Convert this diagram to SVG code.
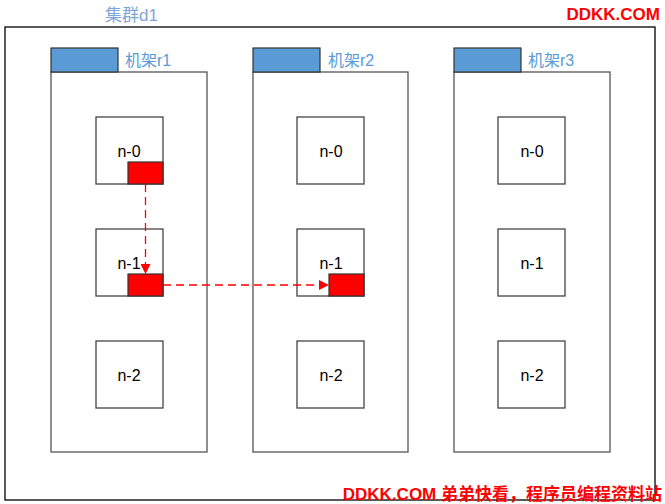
<svg xmlns="http://www.w3.org/2000/svg" width="665" height="504" viewBox="0 0 665 504">
<style>
.frame{fill:#fff;stroke:#000;stroke-width:1.3}
.rack{fill:#fff;stroke:#555;stroke-width:1.3}
.tab{fill:#5b9bd5;stroke:#333;stroke-width:1.2}
.node{fill:#fff;stroke:#444;stroke-width:1.3}
.red{fill:#ff0000;stroke:#333;stroke-width:1.2}
.nt{font-family:"Liberation Sans","Open Sans",sans-serif;font-size:16px;fill:#000;text-anchor:middle}
.rl{font-family:"Liberation Sans","Noto Sans CJK SC",sans-serif;font-size:16px;fill:#5b9bd5}
.wm{font-family:"Liberation Sans","Noto Sans CJK SC",sans-serif;font-weight:bold;fill:#ff0000}
.conn{fill:none;stroke:#ff0000;stroke-width:1.3;stroke-dasharray:8,5}
</style>
<defs>
<marker id="ah" viewBox="0 0 10 10" refX="10" refY="5" markerWidth="10" markerHeight="10" markerUnits="userSpaceOnUse" orient="auto">
<path d="M0,0 L10,5 L0,10 z" fill="#ff0000"/>
</marker>
</defs>
<rect width="665" height="504" fill="#fff"/>
<g id="cluster">
<rect class="frame" x="5" y="27" width="650" height="473"/>
<text class="rl" x="105" y="21" font-size="17" fill="#7fa6d8" style="font-size:17px;fill:#7ea6d9">集群d1</text>
</g>
<g id="rack-r1">
<rect class="rack" x="51" y="72" width="156" height="380"/>
<rect class="tab" x="51" y="48" width="67" height="24"/>
<text class="rl" x="125" y="66">机架r1</text>
</g>
<g id="rack-r2">
<rect class="rack" x="253" y="72" width="155" height="380"/>
<rect class="tab" x="253" y="48" width="67" height="24"/>
<text class="rl" x="328" y="66">机架r2</text>
</g>
<g id="rack-r3">
<rect class="rack" x="454" y="72" width="156" height="380"/>
<rect class="tab" x="454" y="48" width="67" height="24"/>
<text class="rl" x="528" y="66">机架r3</text>
</g>
<g id="r1-n0"><rect class="node" x="96" y="117" width="67" height="67"/><text class="nt" x="129" y="157">n-0</text><rect class="red" x="128" y="162" width="35" height="22"/></g>
<g id="r1-n1"><rect class="node" x="96" y="229" width="67" height="67"/><text class="nt" x="129" y="269">n-1</text><rect class="red" x="128" y="274" width="35" height="22"/></g>
<g id="r1-n2"><rect class="node" x="96" y="341" width="67" height="67"/><text class="nt" x="129" y="381">n-2</text></g>
<g id="r2-n0"><rect class="node" x="297" y="117" width="67" height="67"/><text class="nt" x="331" y="157">n-0</text></g>
<g id="r2-n1"><rect class="node" x="297" y="229" width="67" height="67"/><text class="nt" x="331" y="269">n-1</text><rect class="red" x="329" y="274" width="35" height="22"/></g>
<g id="r2-n2"><rect class="node" x="297" y="341" width="67" height="67"/><text class="nt" x="331" y="381">n-2</text></g>
<g id="r3-n0"><rect class="node" x="498" y="117" width="67" height="67"/><text class="nt" x="532" y="157">n-0</text></g>
<g id="r3-n1"><rect class="node" x="498" y="229" width="67" height="67"/><text class="nt" x="532" y="269">n-1</text></g>
<g id="r3-n2"><rect class="node" x="498" y="341" width="67" height="67"/><text class="nt" x="532" y="381">n-2</text></g>
<g id="connectors">
<path class="conn" d="M145.5,184 L145.5,274" marker-end="url(#ah)"/>
<path class="conn" d="M163,285 L329,285" marker-end="url(#ah)"/>
</g>
<text class="wm" x="660" y="20" text-anchor="end" style="font-size:17px">DDKK.COM</text>
<text class="wm" x="662" y="500" text-anchor="end" style="font-size:17px">DDKK.COM 弟弟快看，程序员编程资料站</text>
</svg>
